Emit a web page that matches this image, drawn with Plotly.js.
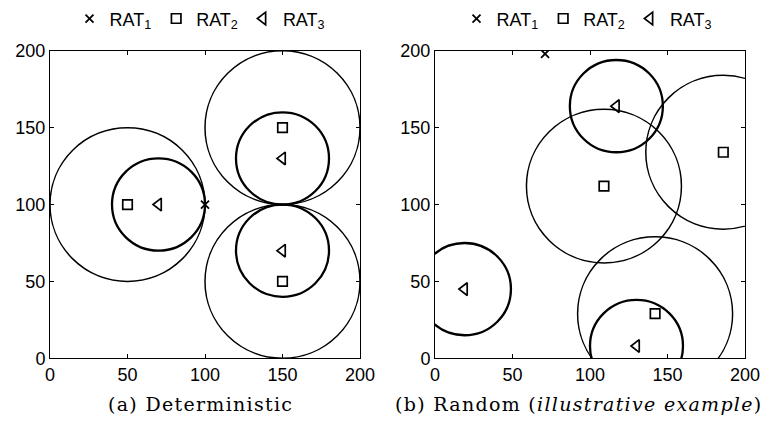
<!DOCTYPE html>
<html>
<head>
<meta charset="utf-8">
<script src="https://cdn.plot.ly/plotly-3.0.1.min.js"></script>
<style>html,body{margin:0;padding:0;background:#fff;}#chart{width:770px;height:421px;}
.annotation-text{letter-spacing:1.3px;}</style>
</head>
<body>
<div id="chart"></div>
<script>
// ---- Data: (a) Deterministic ----
const detRat1X = [100];
const detRat1Y = [100];
const detRat2X = [50, 150, 150];
const detRat2Y = [100, 150, 50];
const detRat3X = [70, 150, 150];
const detRat3Y = [100, 130, 70];
const detRat2Radius = [50, 50, 50];
const detRat3Radius = [30, 30, 30];

// ---- Data: (b) Random (illustrative example) ----
const rndRat1X = [71];
const rndRat1Y = [198];
const rndRat2X = [109, 186, 142];
const rndRat2Y = [112, 134, 29];
const rndRat3X = [117, 19, 130];
const rndRat3Y = [164, 45, 8];
const rndRat2Radius = [50, 50, 50];
const rndRat3Radius = [30, 30, 30];

const legendNames = ['RAT<sub>1</sub>', 'RAT<sub>2</sub>', 'RAT<sub>3</sub>'];
const tickVals = [0, 50, 100, 150, 200];
const captions = ['(a) Deterministic', '(b) Random (<i>illustrative example</i>)'];

function markerTraces(xa, ya, leg, r1x, r1y, r2x, r2y, r3x, r3y) {
  return [
    {x: r1x, y: r1y, xaxis: xa, yaxis: ya, legend: leg, name: legendNames[0], type: 'scatter', mode: 'markers',
     marker: {symbol: 'x-thin', size: 8, color: 'black', line: {color: 'black', width: 1.8}}},
    {x: r2x, y: r2y, xaxis: xa, yaxis: ya, legend: leg, name: legendNames[1], type: 'scatter', mode: 'markers',
     marker: {symbol: 'square-open', size: 9.5, color: 'black', line: {color: 'black', width: 1.7}}},
    {x: r3x, y: r3y, xaxis: xa, yaxis: ya, legend: leg, name: legendNames[2], type: 'scatter', mode: 'markers',
     marker: {symbol: 'triangle-left-open', size: 11, color: 'black', line: {color: 'black', width: 1.7}}}
  ];
}

function circleShapes(xref, yref, cx, cy, rad, w) {
  return cx.map((c, i) => ({
    type: 'circle', xref: xref, yref: yref,
    x0: c - rad[i], x1: c + rad[i], y0: cy[i] - rad[i], y1: cy[i] + rad[i],
    line: {color: 'black', width: w}, layer: 'above'
  }));
}

const traces = [].concat(
  markerTraces('x', 'y', 'legend', detRat1X, detRat1Y, detRat2X, detRat2Y, detRat3X, detRat3Y),
  markerTraces('x2', 'y2', 'legend2', rndRat1X, rndRat1Y, rndRat2X, rndRat2Y, rndRat3X, rndRat3Y)
);

const shapes = [].concat(
  circleShapes('x', 'y', detRat2X, detRat2Y, detRat2Radius, 1.5),
  circleShapes('x', 'y', detRat3X, detRat3Y, detRat3Radius, 2.3),
  circleShapes('x2', 'y2', rndRat2X, rndRat2Y, rndRat2Radius, 1.5),
  circleShapes('x2', 'y2', rndRat3X, rndRat3Y, rndRat3Radius, 2.3)
);

function axis(domain, anchor) {
  return {
    domain: domain, anchor: anchor, range: [0, 200], tickvals: tickVals, ticktext: tickVals.map(String),
    showgrid: false, zeroline: false, showline: true, linecolor: 'black', linewidth: 1,
    mirror: 'ticks', ticks: 'inside', ticklen: 4, tickcolor: 'black', tickwidth: 1,
    tickfont: {family: 'Liberation Sans, Arial, sans-serif', size: 18, color: 'black'}, fixedrange: true
  };
}

const yDom = [1 - 358 / 421, 1 - 49 / 421];
const legendStyle = (xc) => ({
  orientation: 'h', x: xc, xanchor: 'center', y: 1.004, yanchor: 'top',
  font: {family: 'Liberation Sans, Arial, sans-serif', size: 18, color: 'black'},
  bgcolor: 'rgba(0,0,0,0)', itemwidth: 30, tracegroupgap: 0
});

const layout = {
  width: 770, height: 421,
  margin: {l: 0, r: 0, t: 0, b: 0},
  paper_bgcolor: 'white', plot_bgcolor: 'white',
  showlegend: true,
  xaxis: axis([50 / 770, 360 / 770], 'y'),
  yaxis: axis(yDom, 'x'),
  xaxis2: axis([435 / 770, 745 / 770], 'y2'),
  yaxis2: axis(yDom, 'x2'),
  legend: legendStyle(200 / 770),
  legend2: legendStyle(587 / 770),
  shapes: shapes,
  annotations: [
    {text: captions[0], xref: 'paper', yref: 'paper', x: 201 / 770, y: 1 - 404 / 421, xanchor: 'center', yanchor: 'middle',
     showarrow: false, font: {family: 'DejaVu Serif, serif', size: 19, color: 'black'}},
    {text: captions[1], xref: 'paper', yref: 'paper', x: 579 / 770, y: 1 - 404 / 421, xanchor: 'center', yanchor: 'middle',
     showarrow: false, font: {family: 'DejaVu Serif, serif', size: 19, color: 'black'}}
  ]
};

Plotly.newPlot('chart', traces, layout, {displayModeBar: false, staticPlot: true});
</script>
</body>
</html>
